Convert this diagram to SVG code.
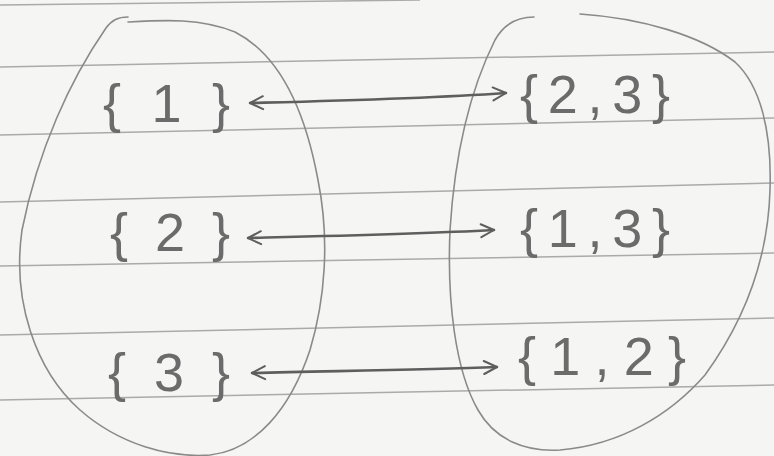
<svg xmlns="http://www.w3.org/2000/svg" width="774" height="456" viewBox="0 0 774 456">
<style>
.rule{stroke:#a9abaa;stroke-width:1.5;fill:none}
.set{stroke:#8a8a8a;stroke-width:1.6;fill:none;stroke-linecap:round;stroke-linejoin:round}
.lbl{font-family:"Liberation Sans","DejaVu Sans",sans-serif;font-size:54px;fill:#6b6b6b}
.arr{stroke:#5e5e5e;stroke-width:2.6;fill:none;stroke-linecap:round}
</style>
<defs>
<marker id="head" viewBox="0 0 16 16" refX="15" refY="8" markerWidth="16" markerHeight="16" markerUnits="userSpaceOnUse" orient="auto-start-reverse">
<path d="M2,1.5 L15,8 L2,14.5" fill="none" stroke="#5e5e5e" stroke-width="2" stroke-linecap="round" stroke-linejoin="round"/>
</marker>
</defs>
<rect width="774" height="456" fill="#f5f5f3"/>
<g id="paper">
<path class="rule" d="M0,5 L420,0"/>
<path class="rule" d="M0,67 L774,52"/>
<path class="rule" d="M0,135 L774,118"/>
<path class="rule" d="M0,202 L774,183"/>
<path class="rule" d="M0,266 L774,253"/>
<path class="rule" d="M0,335 L774,318"/>
<path class="rule" d="M0,400 L774,385"/>
</g>
<g id="domain">
<path class="set" d="M128,17 C118,17 112,20 106,28 C70,80 38,150 22,230 C12,300 35,370 80,410 C120,445 170,458 210,455 C255,450 290,410 310,350 C325,300 330,240 318,180 C305,110 280,55 235,32 C200,18 165,20 128,22"/>
</g>
<g id="codomain">
<path class="set" d="M534,17 C520,17 505,22 495,40 C470,90 455,150 450,230 C447,300 455,370 478,410 C495,440 525,452 560,450 C620,445 670,415 705,375 C745,320 768,260 770,190 C772,130 760,85 735,62 C700,35 640,18 580,14"/>
</g>
<g id="s1"><text class="lbl" x="103" y="122" textLength="127" lengthAdjust="spacing">{1}</text></g>
<g id="s2"><text class="lbl" x="110" y="251" textLength="120" lengthAdjust="spacing">{2}</text></g>
<g id="s3"><text class="lbl" x="108" y="391" textLength="122" lengthAdjust="spacing">{3}</text></g>
<g id="s23"><text class="lbl" x="520" y="113" textLength="150" lengthAdjust="spacing">{2,3}</text></g>
<g id="s13"><text class="lbl" x="520" y="247" textLength="150" lengthAdjust="spacing">{1,3}</text></g>
<g id="s12"><text class="lbl" x="518" y="375" textLength="168" lengthAdjust="spacing">{1,2}</text></g>
<g id="connectors">
<path class="arr" d="M250,103 C330,101 420,99 506,93" marker-start="url(#head)" marker-end="url(#head)"/>
<path class="arr" d="M248,238 C330,236 420,234 494,230" marker-start="url(#head)" marker-end="url(#head)"/>
<path class="arr" d="M252,373 C330,371 420,370 497,367" marker-start="url(#head)" marker-end="url(#head)"/>
</g>
</svg>
